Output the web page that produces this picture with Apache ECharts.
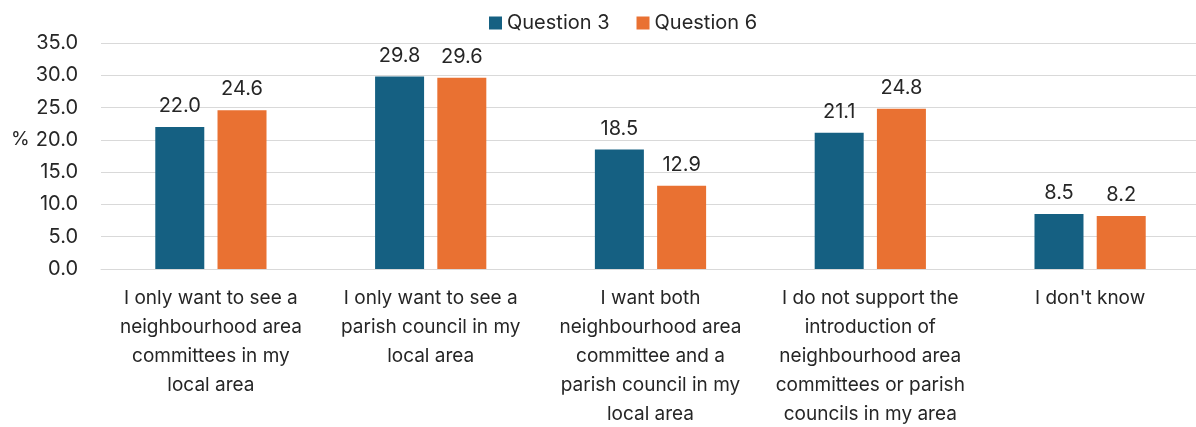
<!DOCTYPE html>
<html>
<head>
<meta charset="utf-8">
<script src="https://cdn.jsdelivr.net/npm/echarts@6/dist/echarts.min.js"></script>
<style>
  html, body { margin: 0; padding: 0; background: #fff; }
  #main { width: 1196px; height: 427px; }
</style>
</head>
<body>
<div id="main"></div>
<script>
var categories = [
  'I only want to see a\nneighbourhood area\ncommittees in my\nlocal area',
  'I only want to see a\nparish council in my\nlocal area',
  'I want both\nneighbourhood area\ncommittee and a\nparish council in my\nlocal area',
  'I do not support the\nintroduction of\nneighbourhood area\ncommittees or parish\ncouncils in my area',
  "I don't know"
];
var question3 = [22.0, 29.8, 18.5, 21.1, 8.5];
var question6 = [24.6, 29.6, 12.9, 24.8, 8.2];
var yTicks = [0, 5, 10, 15, 20, 25, 30, 35];

var font = 'Inter, "Open Sans", sans-serif';
var txt = '#262626';

var chart = echarts.init(document.getElementById('main'), null, { renderer: 'canvas' });

var valueLabel = {
  show: true, position: 'top', distance: 11,
  fontSize: 20, color: txt, fontFamily: font,
  formatter: function (p) { return p.value.toFixed(1); }
};

var option = {
  animation: false,
  color: ['#156082', '#E97132'],
  textStyle: { fontFamily: font },
  legend: {
    top: 8,
    left: 484,
    itemWidth: 13,
    itemHeight: 13,
    itemGap: 27,
    icon: 'rect',
    textStyle: { fontSize: 20, color: txt, fontFamily: font },
    data: ['Question 3', 'Question 6']
  },
  graphic: [{
    type: 'text',
    left: 11,
    top: 130,
    style: { text: '%', fontSize: 19, fill: txt, fontFamily: font }
  }],
  grid: { left: 101, right: -4, top: 43, bottom: 158, outerBoundsMode: 'none', containLabel: false },
  xAxis: {
    type: 'category',
    data: categories,
    axisTick: { show: false },
    axisLine: { lineStyle: { color: '#d9d9d9', width: 1 } },
    axisLabel: {
      interval: 0,
      margin: 15,
      fontSize: 19,
      lineHeight: 29,
      color: txt,
      fontFamily: font
    }
  },
  yAxis: {
    type: 'value',
    min: yTicks[0],
    max: yTicks[yTicks.length - 1],
    interval: 5,
    axisLine: { show: false },
    axisTick: { show: false },
    splitLine: { lineStyle: { color: '#d9d9d9', width: 1 } },
    axisLabel: {
      margin: 23,
      fontSize: 20,
      color: txt,
      fontFamily: font,
      formatter: function (v) { return v.toFixed(1); }
    }
  },
  series: [
    {
      name: 'Question 3',
      type: 'bar',
      data: question3,
      barWidth: 49,
      barGap: '27%',
      label: valueLabel
    },
    {
      name: 'Question 6',
      type: 'bar',
      data: question6,
      barWidth: 49,
      label: valueLabel
    }
  ]
};

chart.setOption(option);
</script>
</body>
</html>
